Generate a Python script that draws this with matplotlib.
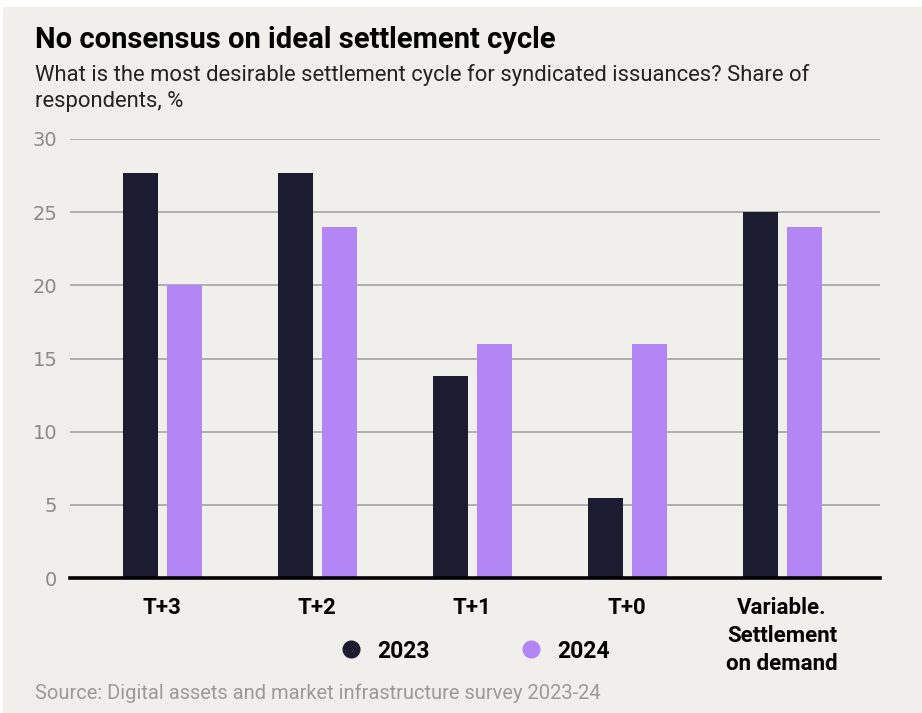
import numpy as np
import matplotlib.pyplot as plt
from matplotlib.lines import Line2D

# data
categories = ['T+3', 'T+2', 'T+1', 'T+0', 'Variable.\nSettlement\non demand']
values_2023 = [27.7, 27.7, 13.8, 5.5, 25.0]
values_2024 = [20.0, 24.0, 16.0, 16.0, 24.0]
years = ['2023', '2024']
yticks = [0, 5, 10, 15, 20, 25, 30]

dark = '#1c1c30'
purple = '#b286f5'
bg = '#f0efeb'

plt.rcParams['font.family'] = ['Roboto', 'DejaVu Sans']

fig = plt.figure(figsize=(9.22, 7.13), dpi=100)
fig.patch.set_facecolor('white')
fig.add_artist(plt.Rectangle((3 / 922, 0), 1, 1 - 7 / 713, transform=fig.transFigure,
                             facecolor=bg, edgecolor='none', zorder=-10))

ax = fig.add_axes([70 / 922, 1 - 578 / 713, 810 / 922, 439 / 713])
ax.set_facecolor(bg)

x = np.arange(len(categories))
w = 0.226
off = 0.142
ax.bar(x - off, values_2023, w, color=dark, zorder=3)
ax.bar(x + off, values_2024, w, color=purple, zorder=3)

ax.set_xlim(-0.594, 4.632)
ax.set_ylim(0, 30)
ax.set_yticks(yticks)
ax.yaxis.grid(True, color='#a3a3a3', linewidth=1.2, zorder=0)
ax.axhline(0, color='black', linewidth=2.6, zorder=4, clip_on=False)
for s in ax.spines.values():
    s.set_visible(False)
ax.tick_params(axis='y', length=0, pad=9, labelsize=14, labelcolor='#8a8a8a')
ax.tick_params(axis='x', length=0, pad=14)
ax.set_xticks(x)
ax.set_xticklabels(categories, fontsize=16, fontweight='bold', color='black',
                   va='top', linespacing=1.35)
for lbl in ax.get_yticklabels():
    lbl.set_family('DejaVu Sans')

handles = [Line2D([], [], marker='o', linestyle='none', markersize=12,
                  markerfacecolor=c, markeredgecolor=c) for c in (dark, purple)]
fig.legend(handles, years, loc='center', bbox_to_anchor=(469 / 922, 1 - 651 / 713),
           ncol=2, frameon=False, handletextpad=0.15, columnspacing=3.4,
           prop={'weight': 'bold', 'size': 16.5})

fig.text(35 / 922, 1 - 40 / 713, 'No consensus on ideal settlement cycle',
         fontsize=21, fontweight='bold', va='center', ha='left')
fig.text(35 / 922, 1 - 88 / 713,
         'What is the most desirable settlement cycle for syndicated issuances? Share of\nrespondents, %',
         fontsize=15.8, va='center', ha='left', linespacing=1.3, color='#222222')
fig.text(35 / 922, 1 - 693 / 713, 'Source: Digital assets and market infrastructure survey 2023-24',
         fontsize=14.5, color='#9a9a9a', va='center', ha='left')

fig.savefig('out.png', dpi=100, facecolor=fig.get_facecolor())
